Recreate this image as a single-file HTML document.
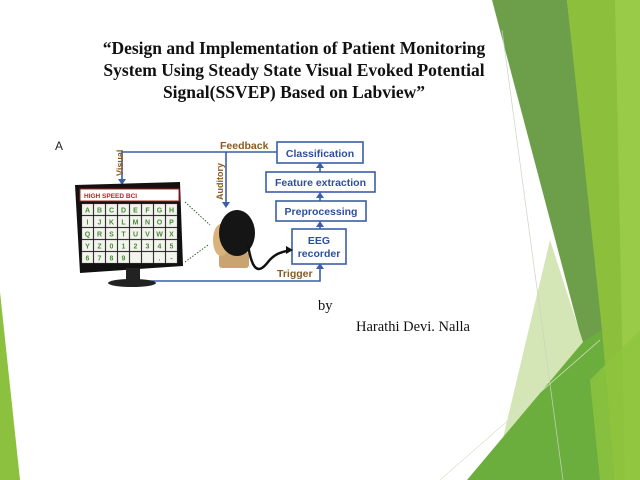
<!DOCTYPE html>
<html><head><meta charset="utf-8"><style>
html,body{margin:0;padding:0;background:#fff;}
body{width:640px;height:480px;overflow:hidden;position:relative;}
.t{position:absolute;font-family:"Liberation Serif",serif;color:#111;white-space:nowrap;}
</style></head><body>
<svg width="640" height="480" style="position:absolute;left:0;top:0">
<polygon points="567,0 640,0 640,480 590,480 600,330" fill="#8cbf3c"/>
<polygon points="615,0 640,0 640,480 625,480" fill="#9acb48"/>
<polygon points="492,0 567,0 602,330 588,372 583,345" fill="#6d9f4b"/>
<polygon points="550,240 583,342 588,372 560,480 493,480" fill="#d5e6b6"/>
<polygon points="583,342 602,330 615,480 467,480" fill="#6cae3e"/>
<polygon points="590,380 640,330 640,480 600,480" fill="#8fc43e" opacity="0.8"/>
<line x1="502" y1="30" x2="563" y2="480" stroke="#c8d4c0" stroke-width="0.7"/>
<line x1="440" y1="480" x2="600" y2="340" stroke="#d9e4d0" stroke-width="0.7"/>
<polygon points="0,292 20,480 0,480" fill="#8cc13f"/>
<text x="55" y="150" font-family="Liberation Sans" font-size="12" fill="#222">A</text>
<g stroke="#3a5ea8" stroke-width="1.6" fill="none">
<polyline points="277,152 122,152 122,180"/>
<line x1="226" y1="152" x2="226" y2="203"/>
<polyline points="115,281 320,281 320,268"/>
<line x1="320" y1="172" x2="320" y2="165"/>
<line x1="320" y1="201" x2="320" y2="195"/>
<line x1="320" y1="229" x2="320" y2="224"/>
</g>
<g fill="#3a5ea8">
<polygon points="118,179 126,179 122,185"/>
<polygon points="222,202 230,202 226,208"/>
<polygon points="316,168 324,168 320,162"/>
<polygon points="316,198 324,198 320,192"/>
<polygon points="316,227 324,227 320,221"/>
<polygon points="316,269 324,269 320,263"/>
</g>
<g fill="#fff" stroke="#3a5ea8" stroke-width="1.6">
<rect x="277" y="142" width="86" height="21"/>
<rect x="266" y="172" width="109" height="20"/>
<rect x="276" y="201" width="90" height="20"/>
<rect x="292" y="229" width="54" height="35"/>
</g>
<g font-family="Liberation Sans" font-weight="bold" fill="#2e4f9a" text-anchor="middle" font-size="10.5">
<text x="320" y="157">Classification</text>
<text x="320.5" y="186">Feature extraction</text>
<text x="321" y="215">Preprocessing</text>
<text x="319" y="244">EEG</text>
<text x="319" y="257">recorder</text>
</g>
<g font-family="Liberation Sans" font-weight="bold" fill="#8a5a20" font-size="10.5">
<text x="220" y="149">Feedback</text>
<text x="277" y="277">Trigger</text>
<text transform="translate(123,176) rotate(-90)" font-size="9">Visual</text>
<text transform="translate(223,200) rotate(-90)" font-size="9">Auditory</text>
</g>
<polygon points="75,185 180,182 183,266 80,273" fill="#111"/>
<rect x="126" y="268" width="14" height="13" fill="#222"/>
<ellipse cx="132" cy="283" rx="24" ry="4" fill="#222"/>
<rect x="80" y="189" width="99" height="12" fill="#fff" stroke="#b02020" stroke-width="1"/>
<text x="84" y="198" font-family="Liberation Sans" font-weight="bold" font-size="6.5" fill="#c02020">HIGH SPEED BCI</text>
<g fill="#f4f4ee" stroke="#888" stroke-width="0.3" id="grid"></g>
<g stroke="#336633" stroke-width="1" stroke-dasharray="1.5,1.5">
<line x1="185" y1="202" x2="210" y2="225"/>
<line x1="185" y1="262" x2="208" y2="245"/>
</g>
<rect x="219" y="252" width="30" height="16" rx="3" fill="#c9a470"/>
<ellipse cx="221" cy="240" rx="8" ry="16" fill="#d9b27c"/>
<ellipse cx="237" cy="233" rx="18" ry="23" fill="#151515"/>
<path d="M248,245 C252,270 258,275 268,262 C276,252 284,252 290,250" stroke="#111" stroke-width="2.5" fill="none"/>
<polygon points="286,246 293,250 286,254" fill="#111"/>
</svg>
<div class="t" style="left:0;width:588px;top:37px;text-align:center;font-weight:bold;font-size:17.5px;line-height:22px;">“Design and Implementation of Patient Monitoring<br>System Using Steady State Visual Evoked Potential<br>Signal(SSVEP) Based on Labview”</div>
<div class="t" style="left:318px;top:298px;font-size:14.5px;">by</div>
<div class="t" style="left:356px;top:319px;font-size:14.5px;">Harathi Devi. Nalla</div>
<script>
var g=document.getElementById('grid'),ns='http://www.w3.org/2000/svg';
var ch="ABCDEFGHIJKLMNOPQRSTUVWXYZ0123456789  .-,-".split('');
for(var r=0;r<5;r++)for(var c=0;c<8;c++){
var x=82+c*12,y=204+r*12;
var re=document.createElementNS(ns,'rect');re.setAttribute('x',x);re.setAttribute('y',y);re.setAttribute('width',11);re.setAttribute('height',11);g.appendChild(re);
var t=document.createElementNS(ns,'text');t.setAttribute('x',x+5.5);t.setAttribute('y',y+8.5);t.setAttribute('text-anchor','middle');t.setAttribute('font-size','7');t.setAttribute('font-family','Liberation Sans');t.setAttribute('font-weight','bold');t.setAttribute('fill','#4a8a3a');t.setAttribute('stroke','none');t.textContent=ch[r*8+c]||'';g.appendChild(t);}
</script>
</body></html>
